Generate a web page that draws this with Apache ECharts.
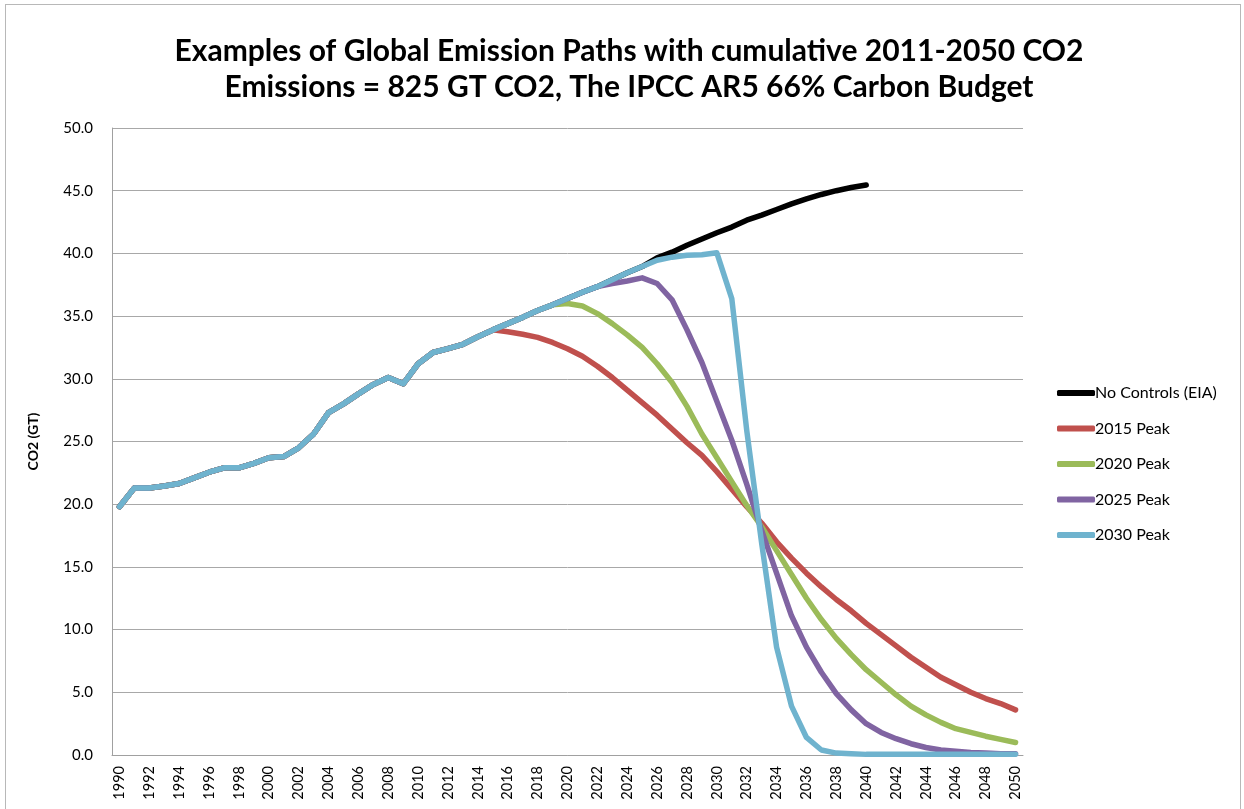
<!DOCTYPE html>
<html>
<head>
<meta charset="utf-8">
<script src="https://cdn.jsdelivr.net/npm/echarts@6/dist/echarts.min.js"></script>
<style>
  html, body { margin: 0; padding: 0; background: #fff; }
  #frame { position: absolute; left: 5px; top: 4px; width: 1234px; height: 812px; border: 1px solid #b8b8b8; }
  #chart { position: absolute; left: 0; top: 0; width: 1244px; height: 809px; }
</style>
</head>
<body>
<div id="frame"></div>
<div id="chart"></div>
<script>
// years on the category axis
const years = [];
for (let y = 1990; y <= 2050; y++) years.push(String(y));

// shared history 1990-2015 (GT CO2)
const history = [19.8, 21.3, 21.3, 21.45, 21.65, 22.1, 22.55, 22.9, 22.9, 23.25,
    23.7, 23.8, 24.5, 25.6, 27.3, 28.0, 28.8, 29.55, 30.1, 29.6,
    31.2, 32.1, 32.4, 32.75, 33.35, 33.9];

// 2016 onwards for each path
const noControls = [34.4, 34.9, 35.45, 35.9, 36.4, 36.9, 37.35, 37.9, 38.45, 38.95,
    39.65, 40.1, 40.65, 41.15, 41.65, 42.1, 42.65, 43.05, 43.5, 43.95,
    44.35, 44.7, 45.0, 45.25, 45.45];
const peak2015 = [33.75, 33.55, 33.3, 32.9, 32.4, 31.8, 31.0, 30.1, 29.1, 28.1,
    27.1, 26.0, 24.9, 23.9, 22.6, 21.2, 19.8, 18.5, 17.0, 15.7,
    14.5, 13.4, 12.4, 11.5, 10.5, 9.6, 8.7, 7.8, 7.0, 6.2,
    5.6, 5.0, 4.5, 4.1, 3.6];
const peak2020 = [34.4, 34.9, 35.45, 35.9, 36.0, 35.8, 35.2, 34.4, 33.5, 32.5,
    31.2, 29.7, 27.8, 25.6, 23.7, 21.8, 19.9, 18.2, 16.3, 14.4,
    12.5, 10.8, 9.3, 8.0, 6.8, 5.8, 4.8, 3.9, 3.2, 2.6,
    2.1, 1.8, 1.5, 1.25, 1.0];
const peak2025 = [34.4, 34.9, 35.45, 35.9, 36.4, 36.9, 37.35, 37.6, 37.8, 38.05,
    37.6, 36.3, 33.9, 31.3, 28.2, 25.1, 21.6, 17.9, 14.5, 11.1,
    8.6, 6.6, 4.9, 3.6, 2.5, 1.8, 1.3, 0.9, 0.6, 0.4,
    0.3, 0.2, 0.15, 0.1, 0.1];
const peak2030 = [34.4, 34.9, 35.45, 35.9, 36.4, 36.9, 37.35, 37.9, 38.45, 38.95,
    39.45, 39.7, 39.85, 39.9, 40.05, 36.4, 25.9, 16.9, 8.6, 3.9,
    1.4, 0.4, 0.15, 0.1, 0.05, 0.05, 0.05, 0.05, 0.05, 0.05,
    0.05, 0.05, 0.05, 0.05, 0.05];

const names = ['No Controls (EIA)', '2015 Peak', '2020 Peak', '2025 Peak', '2030 Peak'];
const colors = ['#000000', '#C0504D', '#9BBB59', '#8064A2', '#6FB3CE'];
const paths = [noControls, peak2015, peak2020, peak2025, peak2030];

const font = 'Lato, "Open Sans", sans-serif';

const chart = echarts.init(document.getElementById('chart'));

const series = paths.map((p, i) => ({
    name: names[i],
    type: 'line',
    data: history.concat(p),
    symbol: 'none',
    lineStyle: { width: 5.5, color: colors[i], cap: 'round', join: 'round' },
    itemStyle: { color: colors[i] },
    emphasis: { disabled: true }
}));

chart.setOption({
    animation: false,
    title: {
        text: 'Examples of Global Emission Paths with cumulative 2011-2050 CO2\nEmissions = 825 GT CO2, The IPCC AR5 66% Carbon Budget',
        left: 624,
        top: 28,
        textAlign: 'center',
        textStyle: { fontFamily: font, fontSize: 30, fontWeight: 'bold', color: '#000', lineHeight: 36 }
    },
    legend: {
        orient: 'vertical',
        left: 1052,
        top: 379,
        icon: 'roundRect',
        itemWidth: 38,
        itemHeight: 6,
        itemGap: 17.5,
        data: names,
        textStyle: { fontFamily: font, fontSize: 16, color: '#000', lineHeight: 18, padding: [0, 0, 0, -5] }
    },
    grid: { left: 112, right: 221, top: 128, bottom: 54 },
    xAxis: {
        type: 'category',
        data: years,
        boundaryGap: true,
        axisLine: { lineStyle: { color: '#a0a0a0', width: 1 } },
        axisTick: { show: false },
        axisLabel: { interval: 1, rotate: 90, margin: 11, fontFamily: font, fontSize: 14.5, color: '#000' }
    },
    yAxis: {
        type: 'value',
        min: 0,
        max: 50,
        interval: 5,
        name: 'CO2 (GT)',
        nameLocation: 'middle',
        nameRotate: 90,
        nameGap: 72,
        nameTextStyle: { fontFamily: font, fontSize: 14, fontWeight: 'bold', color: '#000' },
        axisLine: { show: true, lineStyle: { color: '#a0a0a0', width: 1 } },
        axisTick: { show: false },
        splitLine: { lineStyle: { color: '#a8a8a8', width: 1 } },
        axisLabel: { formatter: v => v.toFixed(1), margin: 19, fontFamily: font, fontSize: 15, color: '#000' }
    },
    series: series
});
</script>
</body>
</html>
